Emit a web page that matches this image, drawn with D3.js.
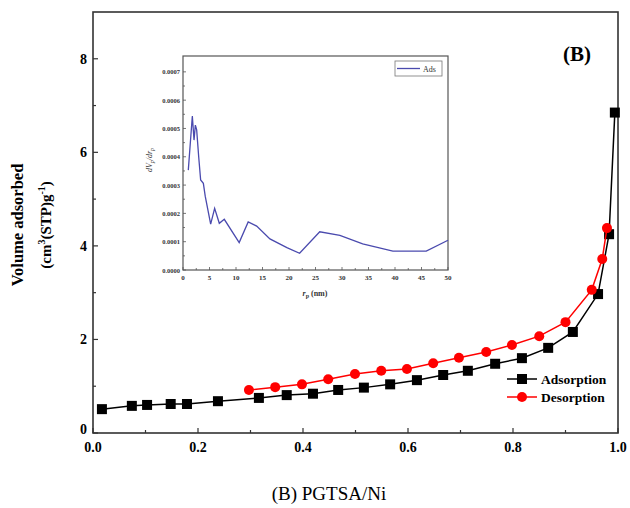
<!DOCTYPE html>
<html><head><meta charset="utf-8">
<script src="https://cdn.jsdelivr.net/npm/d3@7"></script>
<style>body{margin:0;background:#fff}svg{display:block}svg text{font-family:"Liberation Serif","Times New Roman",serif}</style>
</head><body>
<svg id="chart" width="630" height="508"></svg>
<script>
// ---- data ----
const adsX = [0.017,0.074,0.103,0.148,0.179,0.238,0.316,0.369,0.419,0.467,0.516,0.566,0.617,0.667,0.714,0.766,0.817,0.867,0.914,0.962,0.983,0.994];
const adsY = [0.51,0.58,0.60,0.62,0.62,0.68,0.75,0.81,0.84,0.92,0.97,1.04,1.13,1.24,1.33,1.48,1.60,1.82,2.16,2.97,4.25,6.85];
const desX = [0.297,0.347,0.398,0.448,0.499,0.549,0.598,0.648,0.697,0.749,0.798,0.850,0.900,0.950,0.970,0.979];
const desY = [0.92,0.98,1.04,1.15,1.26,1.33,1.37,1.49,1.61,1.73,1.88,2.07,2.37,3.06,3.72,4.38];
const poreR  = [1.0,1.76,2.08,2.33,2.58,2.96,3.33,3.84,4.2,5.22,5.97,6.85,7.79,10.6,12.3,13.9,16.4,19.6,22.0,25.8,29.6,33.9,39.6,45.9,50];
const poreDV = [0.000353,0.000544,0.000459,0.000512,0.000495,0.000400,0.000318,0.000306,0.000260,0.000162,0.000218,0.000165,0.000179,0.000097,0.000170,0.000155,0.000110,0.000079,0.000059,0.000135,0.000122,0.000092,0.000067,0.000067,0.000105];
const xTicks = [0,0.2,0.4,0.6,0.8,1.0];
const xTickLabels = ["0.0","0.2","0.4","0.6","0.8","1.0"];
const yTicks = [0,2,4,6,8];
const insetXTicks = [0,5,10,15,20,25,30,35,40,45,50];
const insetYTicks = [0,0.0001,0.0002,0.0003,0.0004,0.0005,0.0006,0.0007];
const seriesNames = ["Adsorption","Desorption"];

const svg = d3.select("#chart");
const axisCol = "#333";

// ---- main plot ----
const L=93,R=618,T=12,B=433;
const x = d3.scaleLinear().domain([0,1]).range([L,R]);
const y = d3.scaleLinear().domain([0,9]).range([B,T]);

svg.append("rect").attr("x",L).attr("y",T).attr("width",R-L).attr("height",B-T)
  .attr("fill","none").attr("stroke",axisCol).attr("stroke-width",1.6);

const gx = svg.append("g");
d3.range(0,1.0001,0.1).forEach((v,i)=>{
  const len = i%2===0?5:3;
  gx.append("line").attr("x1",x(v)).attr("x2",x(v)).attr("y1",B).attr("y2",B-len).attr("stroke",axisCol).attr("stroke-width",1.2);
});
xTicks.forEach((v,i)=>{
  gx.append("text").attr("x",x(v)).attr("y",B+19).attr("text-anchor","middle")
    .attr("font-weight","bold").attr("font-size",14).text(xTickLabels[i]);
});
const gy = svg.append("g");
d3.range(0,9,1).forEach((v,i)=>{
  const len = i%2===0?5:3;
  gy.append("line").attr("x1",L).attr("x2",L+len).attr("y1",y(v)).attr("y2",y(v)).attr("stroke",axisCol).attr("stroke-width",1.2);
});
yTicks.forEach(v=>{
  gy.append("text").attr("x",L-6).attr("y",y(v)+(v===0?1:5)).attr("text-anchor","end")
    .attr("font-weight","bold").attr("font-size",14).text(v);
});

// axis title
svg.append("text").attr("transform","translate(23,225) rotate(-90)")
  .attr("text-anchor","middle").attr("font-weight","bold").attr("font-size",16.5).text("Volume adsorbed");
const yt2 = svg.append("text").attr("transform","translate(51,225) rotate(-90)")
  .attr("text-anchor","middle").attr("font-weight","bold").attr("font-size",15);
yt2.append("tspan").text("(cm");
yt2.append("tspan").attr("dy",-6).attr("font-size",10).text("3");
yt2.append("tspan").attr("dy",6).text("(STP)g");
yt2.append("tspan").attr("dy",-6).attr("font-size",10).text("-1");
yt2.append("tspan").attr("dy",6).text(")");

// series
const line = d3.line().x(d=>x(d[0])).y(d=>y(d[1]));
const ads = adsX.map((v,i)=>[v,adsY[i]]);
const des = desX.map((v,i)=>[v,desY[i]]);
svg.append("path").datum(ads).attr("d",line).attr("fill","none").attr("stroke","#000").attr("stroke-width",1.5);
svg.selectAll(".sq").data(ads).join("rect").attr("x",d=>x(d[0])-5).attr("y",d=>y(d[1])-5)
  .attr("width",10).attr("height",10).attr("fill","#000");
svg.append("path").datum(des).attr("d",line).attr("fill","none").attr("stroke","#ff0000").attr("stroke-width",1.5);
svg.selectAll(".ci").data(des).join("circle").attr("cx",d=>x(d[0])).attr("cy",d=>y(d[1]))
  .attr("r",5).attr("fill","#ff0000");

// legend
const lg = svg.append("g");
[["#000","sq",379],["#ff0000","ci",397]].forEach((s,i)=>{
  lg.append("line").attr("x1",507).attr("x2",537).attr("y1",s[2]).attr("y2",s[2]).attr("stroke",s[0]).attr("stroke-width",1.5);
  if(s[1]==="sq") lg.append("rect").attr("x",522-5).attr("y",s[2]-5).attr("width",10).attr("height",10).attr("fill",s[0]);
  else lg.append("circle").attr("cx",522).attr("cy",s[2]).attr("r",5).attr("fill",s[0]);
  lg.append("text").attr("x",541).attr("y",s[2]+4.5).attr("font-weight","bold")
    .attr("font-size",13.5).text(seriesNames[i]);
});

// (B) label
svg.append("text").attr("x",577).attr("y",61).attr("text-anchor","middle")
  .attr("font-weight","bold").attr("font-size",21).text("(B)");

// caption
svg.append("text").attr("x",329).attr("y",500).attr("text-anchor","middle")
  .attr("font-size",19).text("(B) PGTSA/Ni");

// ---- inset ----
const iL=183,iR=448,iT=56,iB=270;
const ix = d3.scaleLinear().domain([0,50]).range([iL,iR]);
const iy = d3.scaleLinear().domain([0,0.000756]).range([iB,iT]);
svg.append("rect").attr("x",iL).attr("y",iT).attr("width",iR-iL).attr("height",iB-iT)
  .attr("fill","#fff").attr("stroke","#555").attr("stroke-width",1.2);
const ig = svg.append("g");
d3.range(0,50.01,2.5).forEach((v,i)=>{
  const len=i%2===0?3:2;
  ig.append("line").attr("x1",ix(v)).attr("x2",ix(v)).attr("y1",iB).attr("y2",iB-len).attr("stroke","#555").attr("stroke-width",0.8);
});
insetXTicks.forEach(v=>{
  ig.append("text").attr("x",ix(v)).attr("y",iB+10).attr("text-anchor","middle")
    .attr("font-weight","bold").attr("font-size",7).attr("fill","#333").text(v);
});
d3.range(0,0.00075,0.00005).forEach((v,i)=>{
  const len=i%2===0?3:2;
  ig.append("line").attr("x1",iL).attr("x2",iL+len).attr("y1",iy(v)).attr("y2",iy(v)).attr("stroke","#555").attr("stroke-width",0.8);
});
insetYTicks.forEach(v=>{
  ig.append("text").attr("x",iL-3).attr("y",iy(v)+2.5).attr("text-anchor","end")
    .attr("font-weight","bold").attr("font-size",6.5).attr("fill","#333").text(v.toFixed(4));
});
const il = svg.append("text").attr("transform","translate(152,160) rotate(-90)").attr("text-anchor","middle")
  .attr("font-style","italic").attr("font-size",8).attr("fill","#333");
il.append("tspan").text("dV");
il.append("tspan").attr("dy",2).attr("font-size",6).text("p");
il.append("tspan").attr("dy",-2).text("/dr");
il.append("tspan").attr("dy",2).attr("font-size",6).text("p");
const ixl = svg.append("text").attr("x",315).attr("y",296).attr("text-anchor","middle")
  .attr("font-weight","bold").attr("font-size",8).attr("fill","#333");
ixl.append("tspan").attr("font-style","italic").text("r");
ixl.append("tspan").attr("dy",2).attr("font-size",6).text("p");
ixl.append("tspan").attr("dy",-2).text(" (nm)");

const pore = poreR.map((v,i)=>[v,poreDV[i]]);
svg.append("path").datum(pore).attr("d",d3.line().x(d=>ix(d[0])).y(d=>iy(d[1])))
  .attr("fill","none").attr("stroke","#4a4aae").attr("stroke-width",1.3);
svg.append("rect").attr("x",395).attr("y",61).attr("width",47).attr("height",15).attr("fill","#fff").attr("stroke","#777").attr("stroke-width",0.8);
svg.append("line").attr("x1",397).attr("x2",420).attr("y1",68.5).attr("y2",68.5).attr("stroke","#4a4aae").attr("stroke-width",1.3);
svg.append("text").attr("x",423).attr("y",71.5).attr("font-size",8).attr("fill","#333").text("Ads");
</script>
</body></html>
